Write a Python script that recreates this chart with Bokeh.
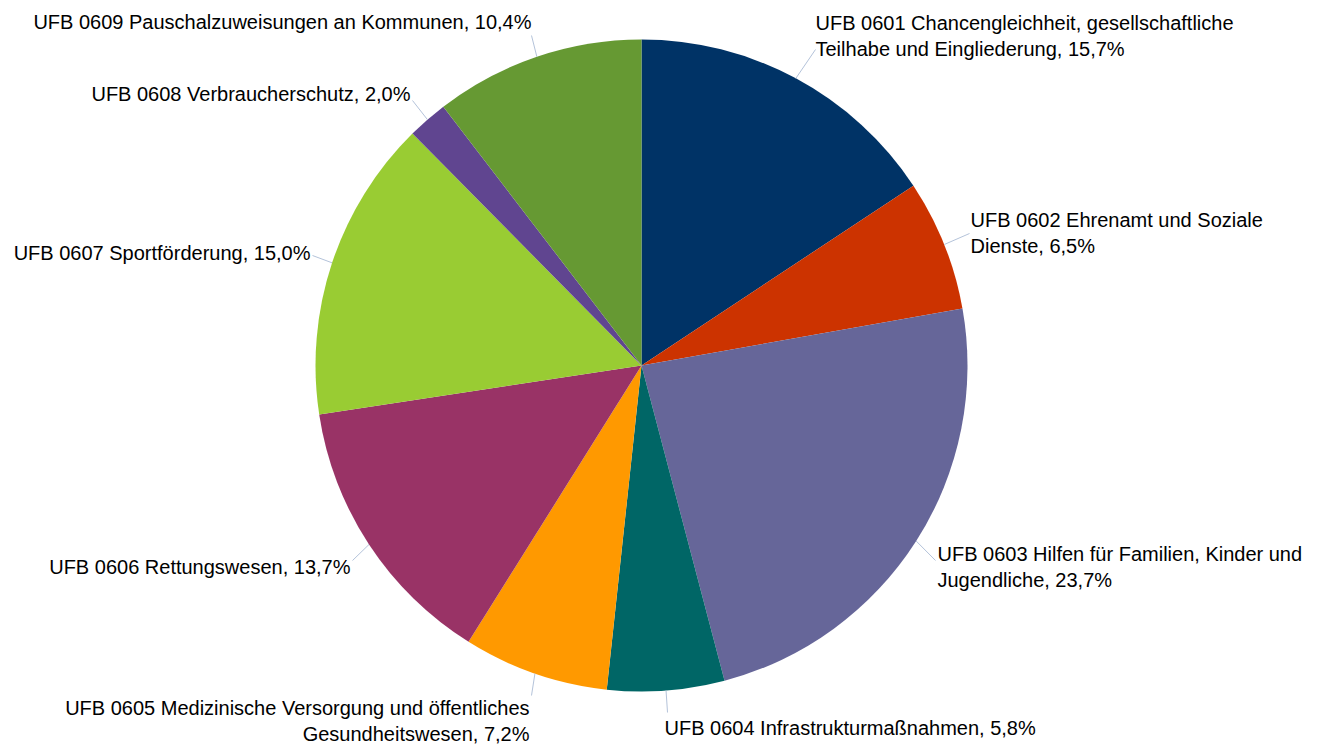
import math
from bokeh.plotting import figure
from bokeh.models import Range1d, ColumnDataSource
from bokeh.core.properties import value
from bokeh.embed import file_html
from bokeh.resources import INLINE

codes = ["UFB 0601", "UFB 0602", "UFB 0603", "UFB 0604", "UFB 0605",
         "UFB 0606", "UFB 0607", "UFB 0608", "UFB 0609"]
names = ["Chancengleichheit, gesellschaftliche\nTeilhabe und Eingliederung",
         "Ehrenamt und Soziale\nDienste",
         "Hilfen für Familien, Kinder und\nJugendliche",
         "Infrastrukturmaßnahmen",
         "Medizinische Versorgung und öffentliches\nGesundheitswesen",
         "Rettungswesen",
         "Sportförderung",
         "Verbraucherschutz",
         "Pauschalzuweisungen an Kommunen"]
shares = [15.7, 6.5, 23.7, 5.8, 7.2, 13.7, 15.0, 2.0, 10.4]
colors = ["#003366", "#CC3300", "#666699", "#006666", "#FF9900",
          "#993366", "#99CC33", "#604590", "#669933"]

W, H = 1326, 744
cx, cy, R = 641, 379, 326

# label anchor positions (layout, in plot coords: x right, y up)
label_pos = [(815, 733, "left"), (970, 536, "left"), (937, 202, "left"),
             (664, 28, "left"), (529, 48, "right"), (350, 189, "right"),
             (310, 503, "right"), (410, 662, "right"), (531, 734, "right")]
leader_end = [(815, 695), (969, 511), (935, 184), (667, 32), (531, 49),
              (352, 184), (312, 489), (412, 644), (531, 709)]

p = figure(width=W, height=H, output_backend="svg", toolbar_location=None,
           x_range=Range1d(0, W), y_range=Range1d(0, H), min_border=0)
p.axis.visible = False
p.grid.visible = False
p.outline_line_color = None
p.background_fill_color = "white"

total = sum(shares)
starts, ends, mids = [], [], []
cum = 0.0
for s in shares:
    a0 = math.pi / 2 - 2 * math.pi * cum / total
    cum += s
    a1 = math.pi / 2 - 2 * math.pi * cum / total
    starts.append(a0)
    ends.append(a1)
    mids.append((a0 + a1) / 2)

src = ColumnDataSource(dict(start=starts, end=ends, color=colors))
p.wedge(x=cx, y=cy, radius=R, start_angle="start", end_angle="end",
        direction="clock", fill_color="color", line_color=None, source=src)

xs, ys = [], []
for m, (ex, ey) in zip(mids, leader_end):
    xs.append([cx + R * math.cos(m), ex])
    ys.append([cy + R * math.sin(m), ey])
p.multi_line(xs, ys, line_color="#B4C3DA", line_width=1)

for code, name, sh, (lx, ly, al) in zip(codes, names, shares, label_pos):
    txt = f"{code} {name}, {sh:.1f}%".replace(".", ",")
    p.text(x=[lx], y=[ly], text=[txt], text_align=al, text_baseline="top",
           text_font=value("Liberation Sans"), text_font_size="20px",
           text_color="#000000", text_line_height=1.2)

open("out.html", "w").write(file_html(p, INLINE))
